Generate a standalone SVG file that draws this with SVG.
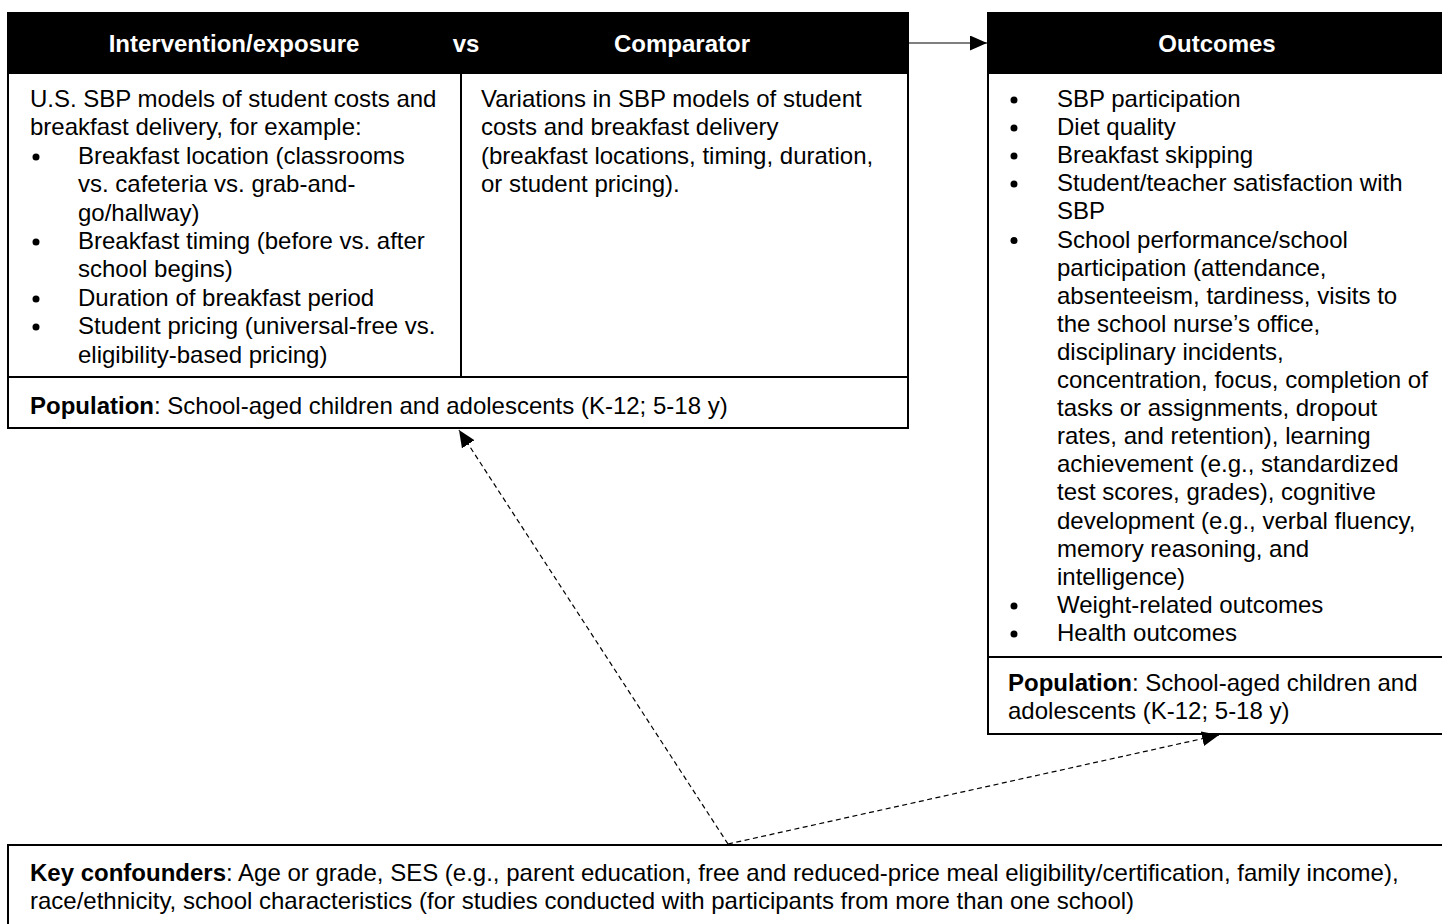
<svg xmlns="http://www.w3.org/2000/svg" width="1442" height="924" viewBox="0 0 1442 924">
<style>
text{font-family:"Liberation Sans",Arial,sans-serif;font-size:24px;fill:#000}
.hd{font-weight:bold;fill:#fff}
.b{font-weight:bold}
.box{fill:#fff;stroke:#000;stroke-width:2}
.sep{stroke:#000;stroke-width:2;fill:none}
.blt{fill:#000}
.con{stroke:#000;stroke-width:1.2;fill:none}
.dash{stroke-dasharray:5 3.5}
</style>
<defs>
<marker id="ah" markerUnits="userSpaceOnUse" markerWidth="20" markerHeight="16" refX="17" refY="7.5" orient="auto">
<path d="M0,0 L17,7.5 L0,15 Z" fill="#000"/>
</marker>
</defs>
<rect width="1442" height="924" fill="#fff"/>

<g id="pico">
<rect class="box" x="8" y="13" width="900" height="415"/>
<rect x="8" y="13" width="900" height="61" fill="#000"/>
<line class="sep" x1="461" y1="74" x2="461" y2="377"/>
<line class="sep" x1="8" y1="377" x2="908" y2="377"/>
<text class="hd" x="234" y="52" text-anchor="middle">Intervention/exposure</text>
<text class="hd" x="466" y="52" text-anchor="middle">vs</text>
<text class="hd" x="682" y="52" text-anchor="middle">Comparator</text>
<g transform="translate(0,1)">
<text x="30" y="106">U.S. SBP models of student costs and</text>
<text x="30" y="134.4">breakfast delivery, for example:</text>
<circle class="blt" cx="36" cy="156" r="3.5"/>
<text x="78" y="162.8">Breakfast location (classrooms</text>
<text x="78" y="191.2">vs. cafeteria vs. grab-and-</text>
<text x="78" y="219.6">go/hallway)</text>
<circle class="blt" cx="36" cy="241" r="3.5"/>
<text x="78" y="248">Breakfast timing (before vs. after</text>
<text x="78" y="276.4">school begins)</text>
<circle class="blt" cx="36" cy="298" r="3.5"/>
<text x="78" y="304.8">Duration of breakfast period</text>
<circle class="blt" cx="36" cy="326" r="3.5"/>
<text x="78" y="333.2">Student pricing (universal-free vs.</text>
<text x="78" y="361.6">eligibility-based pricing)</text>
<text x="481" y="106">Variations in SBP models of student</text>
<text x="481" y="134.4">costs and breakfast delivery</text>
<text x="481" y="162.8">(breakfast locations, timing, duration,</text>
<text x="481" y="191.2">or student pricing).</text>
</g>
<text x="30" y="414"><tspan class="b">Population</tspan>: School-aged children and adolescents (K-12; 5-18 y)</text>
</g>

<g id="outcomes">
<rect class="box" x="988" y="13" width="456" height="721"/>
<rect x="988" y="13" width="456" height="61" fill="#000"/>
<line class="sep" x1="988" y1="657" x2="1442" y2="657"/>
<text class="hd" x="1217" y="52" text-anchor="middle">Outcomes</text>
<g transform="translate(0,1)">
<circle class="blt" cx="1014" cy="99" r="3.5"/>
<text x="1057" y="106">SBP participation</text>
<circle class="blt" cx="1014" cy="127" r="3.5"/>
<text x="1057" y="134.1">Diet quality</text>
<circle class="blt" cx="1014" cy="155" r="3.5"/>
<text x="1057" y="162.2">Breakfast skipping</text>
<circle class="blt" cx="1014" cy="183" r="3.5"/>
<text x="1057" y="190.3">Student/teacher satisfaction with</text>
<text x="1057" y="218.4">SBP</text>
<circle class="blt" cx="1014" cy="239.5" r="3.5"/>
<text x="1057" y="246.5">School performance/school</text>
<text x="1057" y="274.6">participation (attendance,</text>
<text x="1057" y="302.7">absenteeism, tardiness, visits to</text>
<text x="1057" y="330.8">the school nurse’s office,</text>
<text x="1057" y="358.9">disciplinary incidents,</text>
<text x="1057" y="387">concentration, focus, completion of</text>
<text x="1057" y="415.1">tasks or assignments, dropout</text>
<text x="1057" y="443.2">rates, and retention), learning</text>
<text x="1057" y="471.3">achievement (e.g., standardized</text>
<text x="1057" y="499.4">test scores, grades), cognitive</text>
<text x="1057" y="527.5">development (e.g., verbal fluency,</text>
<text x="1057" y="555.6">memory reasoning, and</text>
<text x="1057" y="583.7">intelligence)</text>
<circle class="blt" cx="1014" cy="605" r="3.5"/>
<text x="1057" y="611.8">Weight-related outcomes</text>
<circle class="blt" cx="1014" cy="633" r="3.5"/>
<text x="1057" y="639.9">Health outcomes</text>
<text x="1008" y="690"><tspan class="b">Population</tspan>: School-aged children and</text>
<text x="1008" y="718">adolescents (K-12; 5-18 y)</text>
</g>
</g>

<g id="confounders">
<rect class="box" x="8" y="845" width="1440" height="100"/>
<text x="30" y="881"><tspan class="b">Key confounders</tspan>: Age or grade, SES (e.g., parent education, free and reduced-price meal eligibility/certification, family income),</text>
<text x="30" y="909">race/ethnicity, school characteristics (for studies conducted with participants from more than one school)</text>
</g>

<g id="connectors">
<line class="con" x1="909" y1="43" x2="987" y2="43" marker-end="url(#ah)"/>
<line class="con dash" x1="728" y1="844" x2="459" y2="430" marker-end="url(#ah)"/>
<line class="con dash" x1="728" y1="844" x2="1219" y2="735" marker-end="url(#ah)"/>
</g>
</svg>
